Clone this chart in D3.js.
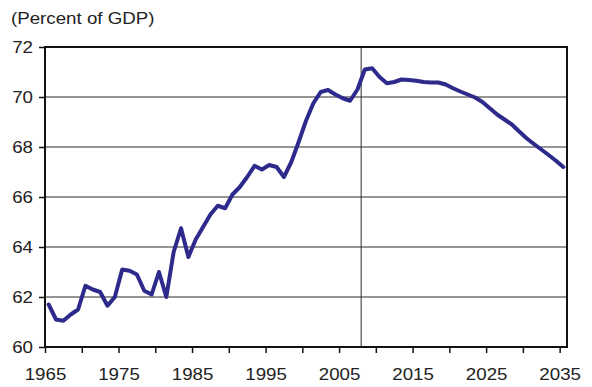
<!DOCTYPE html>
<html>
<head>
<meta charset="utf-8">
<script src="https://cdn.jsdelivr.net/npm/d3@7"></script>
<style>
  html, body { margin: 0; padding: 0; background: #ffffff; }
  svg { display: block; }
  text { font-family: "Liberation Sans", Arial, sans-serif; fill: #222; }
</style>
</head>
<body>
<svg id="chart" width="592" height="387"></svg>
<script>
const years = d3.range(1965, 2036);
const values = [
  61.7, 61.1, 61.05, 61.3, 61.5, 62.45, 62.3, 62.2, 61.65, 62.0,
  63.1, 63.05, 62.9, 62.25, 62.1, 63.0, 62.0, 63.8, 64.75, 63.6,
  64.3, 64.8, 65.3, 65.65, 65.55, 66.1, 66.4, 66.8, 67.25, 67.1,
  67.28, 67.2, 66.8, 67.4, 68.2, 69.05, 69.75, 70.2, 70.28, 70.1,
  69.95, 69.85, 70.3, 71.1, 71.15, 70.8, 70.55, 70.6, 70.7, 70.68,
  70.65, 70.6, 70.58, 70.58, 70.5, 70.35, 70.22, 70.1, 69.98, 69.8,
  69.55, 69.3, 69.1, 68.9, 68.62, 68.35, 68.12, 67.9, 67.68, 67.45,
  67.2
];
const yTicks = [60, 62, 64, 66, 68, 70, 72];
const xTicks = d3.range(1965, 2036, 5);
const xLabels = [1965, 1975, 1985, 1995, 2005, 2015, 2025, 2035];
const gridValues = [62, 64, 66, 68, 70];
const markerYear = 2008;
const unitLabel = "(Percent of GDP)";

const svg = d3.select("#chart");
const L = 45, R = 567, T = 47, B = 347;
const sx = 1.17;

const x = d3.scaleLinear().domain([1965, 2036]).range([L, R]);
const y = d3.scaleLinear().domain([60, 72]).range([B, T]);

// gridlines
svg.append("g").selectAll("line").data(gridValues).join("line")
  .attr("x1", L).attr("x2", R)
  .attr("y1", d => y(d)).attr("y2", d => y(d))
  .attr("stroke", "#2a2a2a").attr("stroke-width", 1);

// vertical marker
svg.append("line")
  .attr("x1", x(markerYear)).attr("x2", x(markerYear))
  .attr("y1", T).attr("y2", B)
  .attr("stroke", "#2a2a2a").attr("stroke-width", 1);

// line
const line = d3.line()
  .x((d, i) => x(years[i] + 0.5))
  .y(d => y(d));
svg.append("path").datum(values)
  .attr("d", line)
  .attr("fill", "none")
  .attr("stroke", "#2d2a8c")
  .attr("stroke-width", 4)
  .attr("stroke-linejoin", "round")
  .attr("stroke-linecap", "round");

// frame
svg.append("rect")
  .attr("x", L).attr("y", T).attr("width", R - L).attr("height", B - T)
  .attr("fill", "none").attr("stroke", "#111").attr("stroke-width", 2);

// x axis
const gx = svg.append("g").attr("transform", `translate(0,${B})`)
  .call(d3.axisBottom(x).tickValues(xTicks).tickSize(6)
    .tickFormat(d => xLabels.includes(d) ? String(d) : ""));
gx.select(".domain").remove();
gx.selectAll(".tick line").attr("stroke", "#111").attr("stroke-width", 1.5);
gx.selectAll(".tick text")
  .attr("y", 33).attr("dy", 0)
  .attr("transform", `scale(${sx},1)`)
  .style("font-size", "16px").style("font-family", "'Liberation Sans', Arial, sans-serif")
  .attr("fill", "#222");

// y axis
const gy = svg.append("g").attr("transform", `translate(${L},0)`)
  .call(d3.axisLeft(y).tickValues(yTicks).tickSize(6).tickFormat(d3.format("d")));
gy.select(".domain").remove();
gy.selectAll(".tick line").attr("stroke", "#111").attr("stroke-width", 1.5);
gy.selectAll(".tick text")
  .attr("x", -12 / sx).attr("dy", "0.36em")
  .attr("transform", `scale(${sx},1)`)
  .style("font-size", "16px").style("font-family", "'Liberation Sans', Arial, sans-serif")
  .attr("fill", "#222");

// unit label
svg.append("text")
  .attr("transform", `translate(11,24) scale(${sx},1)`)
  .style("font-size", "16px")
  .text(unitLabel);
</script>
</body>
</html>
